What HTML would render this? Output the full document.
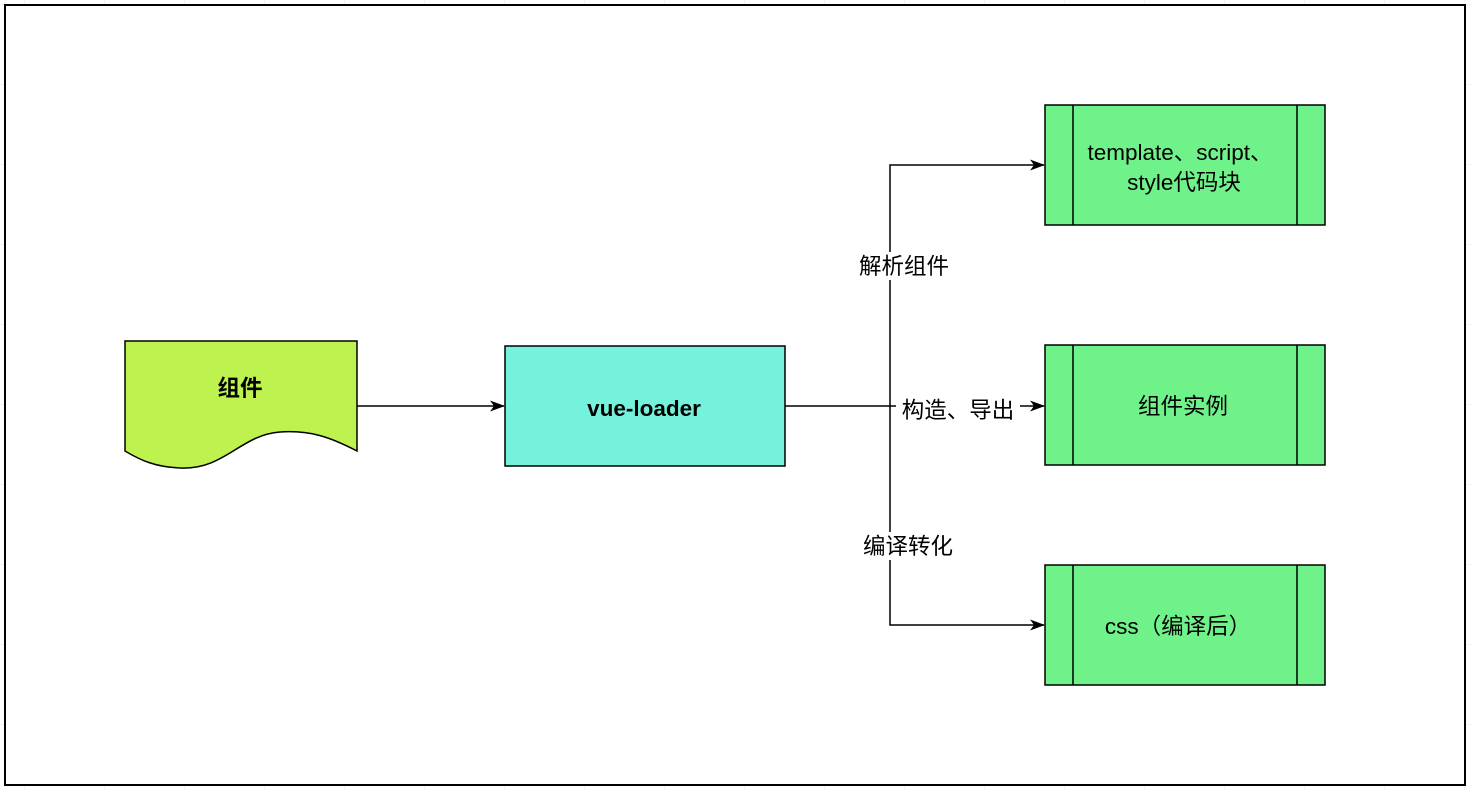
<!DOCTYPE html>
<html><head><meta charset="utf-8"><style>
html,body{margin:0;padding:0;background:#fff;width:1472px;height:790px;overflow:hidden}
svg{display:block}
text{font-family:"Liberation Sans","Noto Sans CJK SC",sans-serif;font-size:22.5px;fill:#000}
</style></head><body>
<svg width="1472" height="790" viewBox="0 0 1472 790">
<defs>
<pattern id="g" width="80" height="80" patternUnits="userSpaceOnUse" x="24" y="4">
<path d="M0 0H80M0 0V80" stroke="#e4e4e4" stroke-width="1" fill="none"/>
</pattern>
<marker id="a" markerWidth="15" markerHeight="11" refX="14" refY="5.5" orient="auto" markerUnits="userSpaceOnUse">
<path d="M0 0 L15 5.5 L0 11 L4 5.5 Z" fill="#000"/>
</marker>
</defs>
<rect width="1472" height="790" fill="url(#g)"/>
<rect x="5" y="5" width="1460" height="780" fill="#fff" stroke="#000" stroke-width="2"/>
<path d="M125 341 H357 V451 C330 437 310 430 280 432 C240 435 225 470 180 468 C155 467 140 460 125 451 Z" fill="#BEF24E" stroke="#000" stroke-width="1.5"/>
<text x="240" y="396" text-anchor="middle" font-weight="bold">组件</text>
<rect x="505" y="346" width="280" height="120" fill="#75F2DC" stroke="#000" stroke-width="1.5"/>
<text x="644" y="416" text-anchor="middle" font-weight="bold">vue-loader</text>
<g fill="#70F28A" stroke="#000" stroke-width="1.5">
<rect x="1045" y="105" width="280" height="120"/><path d="M1073 105V225M1297 105V225"/>
<rect x="1045" y="345" width="280" height="120"/><path d="M1073 345V465M1297 345V465"/>
<rect x="1045" y="565" width="280" height="120"/><path d="M1073 565V685M1297 565V685"/>
</g>
<text x="1180" y="160" text-anchor="middle">template、script、</text>
<text x="1184" y="190" text-anchor="middle">style代码块</text>
<text x="1183" y="414" text-anchor="middle">组件实例</text>
<text x="1178" y="634" text-anchor="middle">css（编译后）</text>
<g stroke="#000" stroke-width="1.5" fill="none">
<path d="M357 406 H504" marker-end="url(#a)"/>
<path d="M785 406 H890"/>
<path d="M890 406 V165 H1044" marker-end="url(#a)"/>
<path d="M890 406 H1044" marker-end="url(#a)"/>
<path d="M890 406 V625 H1044" marker-end="url(#a)"/>
</g>
<rect x="896" y="392" width="124" height="28" fill="#fff"/>
<text x="958" y="418" text-anchor="middle">构造、导出</text>
<rect x="855" y="252" width="98" height="28" fill="#fff"/>
<text x="904" y="274" text-anchor="middle">解析组件</text>
<rect x="859" y="532" width="98" height="28" fill="#fff"/>
<text x="908" y="554" text-anchor="middle">编译转化</text>
</svg>
</body></html>
